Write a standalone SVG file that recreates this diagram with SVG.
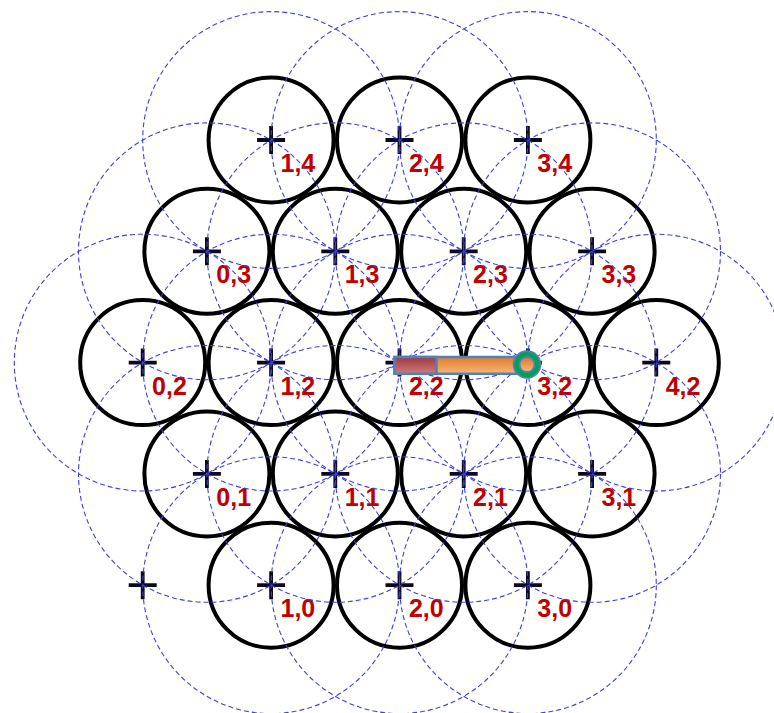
<svg xmlns="http://www.w3.org/2000/svg" width="774" height="713" viewBox="0 0 774 713">
<defs>
<style>
.cell{fill:none;stroke:#000;stroke-width:4}
.x{stroke:#0a0a1e;stroke-width:3.8;fill:none}
.rng{fill:none;stroke:#4040dc;stroke-width:1.1;stroke-dasharray:5 3}
.lbl{font-family:"Liberation Sans",Arial,sans-serif;font-weight:bold;font-size:25px;fill:#c00000}
.bar{stroke:#4f81bd;stroke-width:2.5}
</style>
<linearGradient id="gRed" x1="0" y1="0" x2="0" y2="1">
<stop offset="0" stop-color="#9c3a3e"/><stop offset="1" stop-color="#cf7a7a"/>
</linearGradient>
<linearGradient id="gOr" x1="0" y1="0" x2="0" y2="1">
<stop offset="0" stop-color="#e07a2c"/><stop offset="1" stop-color="#f9b676"/>
</linearGradient>
<path id="cross" class="x" d="M-14 0H14M0 -14V14"/>
</defs>
<rect width="774" height="713" fill="#fff"/>

<g id="nodes">
<g id="n1_4"><circle class="cell" cx="271.1" cy="140" r="62.5"/><use href="#cross" x="271.1" y="140"/><text class="lbl" x="280.5" y="172">1,4</text></g>
<g id="n2_4"><circle class="cell" cx="399.5" cy="140" r="62.5"/><use href="#cross" x="399.5" y="140"/><text class="lbl" x="408.9" y="172">2,4</text></g>
<g id="n3_4"><circle class="cell" cx="527.9" cy="140" r="62.5"/><use href="#cross" x="527.9" y="140"/><text class="lbl" x="537.3" y="172">3,4</text></g>

<g id="n0_3"><circle class="cell" cx="206.9" cy="251.3" r="62.5"/><use href="#cross" x="206.9" y="251.3"/><text class="lbl" x="216.3" y="283.3">0,3</text></g>
<g id="n1_3"><circle class="cell" cx="335.3" cy="251.3" r="62.5"/><use href="#cross" x="335.3" y="251.3"/><text class="lbl" x="344.7" y="283.3">1,3</text></g>
<g id="n2_3"><circle class="cell" cx="463.7" cy="251.3" r="62.5"/><use href="#cross" x="463.7" y="251.3"/><text class="lbl" x="473.1" y="283.3">2,3</text></g>
<g id="n3_3"><circle class="cell" cx="592.1" cy="251.3" r="62.5"/><use href="#cross" x="592.1" y="251.3"/><text class="lbl" x="601.5" y="283.3">3,3</text></g>

<g id="n0_2"><circle class="cell" cx="142.7" cy="362.6" r="62.5"/><use href="#cross" x="142.7" y="362.6"/><text class="lbl" x="152.1" y="394.6">0,2</text></g>
<g id="n1_2"><circle class="cell" cx="271.1" cy="362.6" r="62.5"/><use href="#cross" x="271.1" y="362.6"/><text class="lbl" x="280.5" y="394.6">1,2</text></g>
<g id="n2_2"><circle class="cell" cx="399.5" cy="362.6" r="62.5"/><use href="#cross" x="399.5" y="362.6"/><text class="lbl" x="408.9" y="394.6">2,2</text></g>
<g id="n3_2"><circle class="cell" cx="527.9" cy="362.6" r="62.5"/><use href="#cross" x="527.9" y="362.6"/><text class="lbl" x="537.3" y="394.6">3,2</text></g>
<g id="n4_2"><circle class="cell" cx="656.3" cy="362.6" r="62.5"/><use href="#cross" x="656.3" y="362.6"/><text class="lbl" x="665.7" y="394.6">4,2</text></g>

<g id="n0_1"><circle class="cell" cx="206.9" cy="473.9" r="62.5"/><use href="#cross" x="206.9" y="473.9"/><text class="lbl" x="216.3" y="505.9">0,1</text></g>
<g id="n1_1"><circle class="cell" cx="335.3" cy="473.9" r="62.5"/><use href="#cross" x="335.3" y="473.9"/><text class="lbl" x="344.7" y="505.9">1,1</text></g>
<g id="n2_1"><circle class="cell" cx="463.7" cy="473.9" r="62.5"/><use href="#cross" x="463.7" y="473.9"/><text class="lbl" x="473.1" y="505.9">2,1</text></g>
<g id="n3_1"><circle class="cell" cx="592.1" cy="473.9" r="62.5"/><use href="#cross" x="592.1" y="473.9"/><text class="lbl" x="601.5" y="505.9">3,1</text></g>

<g id="n0_0"><use href="#cross" x="142.7" y="585.2"/></g>
<g id="n1_0"><circle class="cell" cx="271.1" cy="585.2" r="62.5"/><use href="#cross" x="271.1" y="585.2"/><text class="lbl" x="280.5" y="617.2">1,0</text></g>
<g id="n2_0"><circle class="cell" cx="399.5" cy="585.2" r="62.5"/><use href="#cross" x="399.5" y="585.2"/><text class="lbl" x="408.9" y="617.2">2,0</text></g>
<g id="n3_0"><circle class="cell" cx="527.9" cy="585.2" r="62.5"/><use href="#cross" x="527.9" y="585.2"/><text class="lbl" x="537.3" y="617.2">3,0</text></g>
</g>

<g id="ranges">
<circle class="rng" cx="271.1" cy="140" r="128.4"/>
<circle class="rng" cx="399.5" cy="140" r="128.4"/>
<circle class="rng" cx="527.9" cy="140" r="128.4"/>
<circle class="rng" cx="206.9" cy="251.3" r="128.4"/>
<circle class="rng" cx="335.3" cy="251.3" r="128.4"/>
<circle class="rng" cx="463.7" cy="251.3" r="128.4"/>
<circle class="rng" cx="592.1" cy="251.3" r="128.4"/>
<circle class="rng" cx="142.7" cy="362.6" r="128.4"/>
<circle class="rng" cx="271.1" cy="362.6" r="128.4"/>
<circle class="rng" cx="399.5" cy="362.6" r="128.4"/>
<circle class="rng" cx="527.9" cy="362.6" r="128.4"/>
<circle class="rng" cx="656.3" cy="362.6" r="128.4"/>
<circle class="rng" cx="206.9" cy="473.9" r="128.4"/>
<circle class="rng" cx="335.3" cy="473.9" r="128.4"/>
<circle class="rng" cx="463.7" cy="473.9" r="128.4"/>
<circle class="rng" cx="592.1" cy="473.9" r="128.4"/>
<circle class="rng" cx="271.1" cy="585.2" r="128.4"/>
<circle class="rng" cx="399.5" cy="585.2" r="128.4"/>
<circle class="rng" cx="527.9" cy="585.2" r="128.4"/>
</g>

<g id="connectors">
<g id="slider">
<rect class="bar" x="394.5" y="357" width="124" height="16.8" fill="url(#gOr)"/>
<rect class="bar" x="394.5" y="357" width="42" height="16.8" fill="url(#gRed)"/>
<circle cx="527" cy="364.5" r="14.3" fill="#4f81bd"/>
<circle cx="527" cy="364.5" r="12.6" fill="#00a24f"/>
<circle cx="527" cy="364.5" r="8.4" fill="#4f81bd"/>
<circle cx="527" cy="364.5" r="6.6" fill="url(#gOr)"/>
</g>
</g>
</svg>
